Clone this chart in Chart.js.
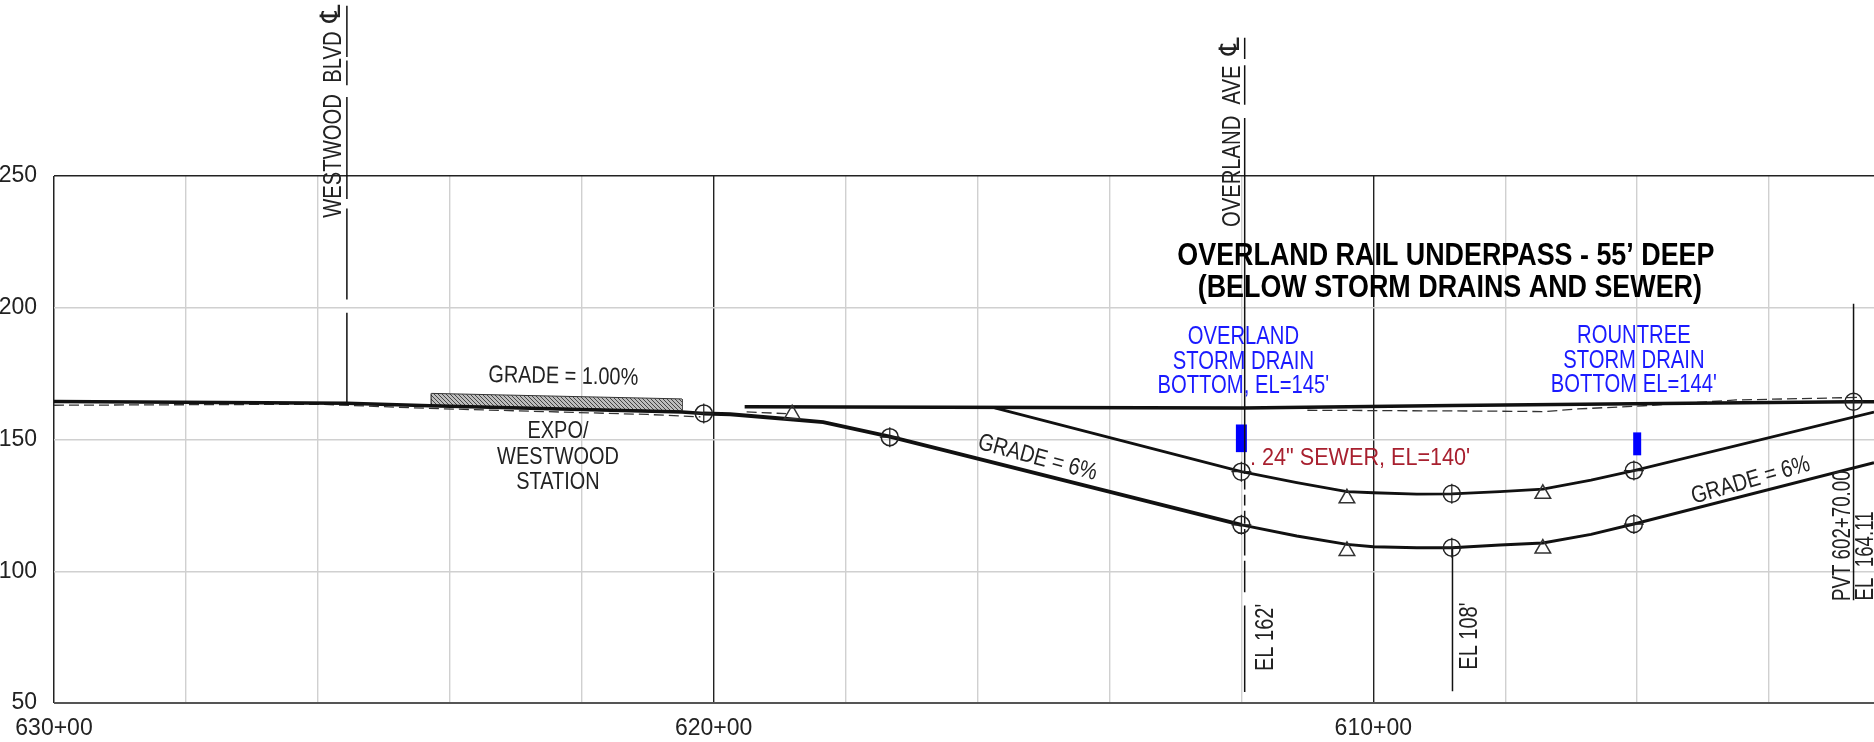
<!DOCTYPE html>
<html>
<head>
<meta charset="utf-8">
<title>Overland rail underpass profile</title>
<script src="https://cdn.jsdelivr.net/npm/chart.js@4/dist/chart.umd.min.js"></script>
<style>
  body { margin: 0; background: #fff; overflow: hidden; }
  canvas { display: block; }
</style>
</head>
<body>
<canvas id="profile" width="1874" height="742"></canvas>
<script>
// stations are in hundreds of feet, elevations in feet
const yTicks = [50, 100, 150, 200, 250];
const xLabelled = [630, 620, 610];

const groundX = [630, 625.56, 624.3, 620.48, 620.15];
const groundY = [164.4, 163.8, 162.8, 160.4, 159.9];

const lowerLeftX = [620.15, 619.75, 618.84, 618.34, 617.33, 616.42, 612];
const lowerLeftY = [159.9, 159.6, 157.7, 156.6, 151.1, 145.4, 117.6];
const lowerRightX = [612, 611.16, 610.4, 610, 609.34, 608.81, 608.08, 607.43, 606.7, 606.05, 602.41];
const lowerRightY = [117.6, 113.4, 110.2, 109.3, 108.9, 108.9, 110, 110.7, 114, 117.9, 141.2];

const upperX = [615.74, 612, 611.16, 610.4, 610, 609.34, 608.81, 608.08, 607.43, 606.7, 606.05, 602.41];
const upperY = [162, 137.8, 133.6, 130.2, 129.8, 129.3, 129.4, 130.2, 131.2, 134.6, 138.2, 160.4];

const surfaceX = [619.53, 611.97, 608.8, 606.05, 602.72, 602.41];
const surfaceY = [162.4, 162, 162.9, 163.6, 164.3, 164.3];

const dashedX = [630, 626, 624.3, 621, 620.2, null, 619.5, 618.9, null, 611, 608.5, 607.4, 606.9, 605.9, 604.5, 602.6];
const dashedY = [163, 163.4, 161.8, 159.5, 158.6, null, 160.5, 159.8, null, 161.1, 160.8, 160.6, 161.6, 162.8, 165, 166];

const platformX = [624.28, 620.48];
const platformTop = [167.5, 165.4];
const platformBottom = [163.1, 160.9];

const circleX = [620.15, 617.33, 612, 612, 608.81, 608.81, 606.05, 606.05, 602.72];
const circleY = [159.9, 150.9, 137.8, 117.6, 129.4, 108.9, 138.2, 117.9, 164.3];

const triangleX = [618.81, 610.4, 610.4, 607.43, 607.43];
const triangleY = [159.6, 127.7, 107.7, 129.4, 108.6];

const westwoodY = [314.6, 295.2, null, 293.8, 284.4, null, 280, 241.3, null, 237.7, 203.1, null, 198.1, 163.9];
const overlandY = [302.5, 294.4, null, 292, 277, null, 272, 137, null, 135, 131, null, 129, 125, null, 123, 118, null, 116, 106, null, 104, 92, null, 87, 54.2];
const el108Y = [109, 54.5];
const pvtY = [201.5, 89];

const drainX = [612, 606];
const drainBottom = [145.2, 144];
const drainTop = [155.7, 152.7];

const labelText = [
  'GRADE = 1.00%', 'EXPO/', 'WESTWOOD', 'STATION',
  'WESTWOOD  BLVD', '\u2104', 'OVERLAND  AVE', '\u2104',
  'OVERLAND RAIL UNDERPASS - 55\u2019 DEEP', '(BELOW STORM DRAINS AND SEWER)',
  'OVERLAND', 'STORM DRAIN', "BOTTOM, EL=145'",
  'ROUNTREE', 'STORM DRAIN', "BOTTOM EL=144'",
  '. 24" SEWER, EL=140\'',
  'GRADE = 6%', 'GRADE = 6%',
  "EL 162'", "EL 108'", 'PVT 602+70.00', 'EL  164.11'
];
const labelX = [622.28, 622.36, 622.36, 622.36, 625.76, 625.77, 612.12, 612.15, 608.9, 608.84, 611.97, 611.97, 611.97, 606.05, 606.05, 606.05, 610.2, 615.09, 604.28, 611.63, 608.53, 602.88, 602.54];
const labelY = [173.8, 152.9, 143.4, 133.9, 269.5, 311.7, 261.3, 299.2, 219.6, 207.4, 188.8, 179.3, 170.2, 189.2, 179.7, 170.6, 143, 143, 134.4, 74.9, 75.4, 113.5, 105.8];
const labelAngle = [1, 0, 0, 0, -90, -90, -90, -90, 0, 0, 0, 0, 0, 0, 0, 0, 0, 15, -16, -90, -90, -90, -90];
const labelKind = ['note', 'note', 'note', 'note', 'street', 'sym', 'street', 'sym', 'title', 'title', 'blue', 'blue', 'blue', 'blue', 'blue', 'blue', 'red', 'note', 'note', 'el', 'el', 'pvt', 'pvt'];

const sans = '"Liberation Sans", "DejaVu Sans", sans-serif';
const kindFont = {
  note: '24px ' + sans,
  street: '25px ' + sans,
  sym: '28px "DejaVu Sans", ' + sans,
  title: 'bold 31px ' + sans,
  blue: '25px ' + sans,
  red: '24px ' + sans,
  el: '25px ' + sans,
  pvt: '26px ' + sans
};
const kindStretch = { note: 0.83, street: 0.81, sym: 1, title: 0.867, blue: 0.81, red: 0.9, el: 0.8, pvt: 0.72 };
const kindColor = { note: '#222', street: '#222', sym: '#222', title: '#000', blue: '#1a1aff', red: '#a8202f', el: '#222', pvt: '#222' };

function zip(xs, ys) {
  return ys.map((y, i) => ({ x: Array.isArray(xs) ? xs[i] : xs, y: y }));
}

function hatch() {
  const c = document.createElement('canvas');
  c.width = 4;
  c.height = 4;
  const g = c.getContext('2d');
  g.fillStyle = '#bdbdbd';
  g.fillRect(0, 0, 4, 4);
  g.strokeStyle = '#444';
  g.lineWidth = 1;
  g.beginPath();
  g.moveTo(0, 0);
  g.lineTo(4, 4);
  g.stroke();
  return g.createPattern(c, 'repeat');
}

function line(xs, ys, width, extra) {
  return Object.assign({
    data: zip(xs, ys),
    borderColor: '#111',
    borderWidth: width,
    pointRadius: 0,
    tension: 0,
    clip: false
  }, extra);
}

// text placed through the scales so it stays tied to station and elevation
const labelPlugin = {
  id: 'labels',
  afterDatasetsDraw(chart) {
    const ctx = chart.ctx;
    labelText.forEach((t, i) => {
      const kind = labelKind[i];
      ctx.save();
      ctx.translate(chart.scales.x.getPixelForValue(labelX[i]), chart.scales.y.getPixelForValue(labelY[i]));
      ctx.rotate(labelAngle[i] * Math.PI / 180);
      ctx.scale(kindStretch[kind], 1);
      ctx.font = kindFont[kind];
      ctx.fillStyle = kindColor[kind];
      ctx.textAlign = 'center';
      ctx.textBaseline = 'middle';
      ctx.fillText(t, 0, 0);
      ctx.restore();
    });
  }
};

new Chart(document.getElementById('profile'), {
  type: 'line',
  plugins: [labelPlugin],
  data: {
    datasets: [
      line(circleX, circleY, 1.5, { showLine: false, pointStyle: 'circle', pointRadius: 8.5, pointBorderWidth: 1.5, pointBorderColor: '#222', pointBackgroundColor: 'transparent' }),
      line(circleX, circleY, 1, { showLine: false, pointStyle: 'cross', pointRadius: 10, pointBorderWidth: 1.2, pointBorderColor: '#222' }),
      line(triangleX, triangleY, 1.5, { showLine: false, pointStyle: 'triangle', pointRadius: 9, pointBorderWidth: 1.5, pointBorderColor: '#333', pointBackgroundColor: 'transparent' }),
      line(groundX, groundY, 3.5),
      line(lowerLeftX, lowerLeftY, 4),
      line(lowerRightX, lowerRightY, 3),
      line(upperX, upperY, 2.8),
      line(surfaceX, surfaceY, 3.5),
      line(dashedX, dashedY, 1.3, { borderDash: [10, 5], borderColor: '#333' }),
      line(platformX, platformTop, 1, { fill: '+1', backgroundColor: hatch(), borderColor: '#333' }),
      line(platformX, platformBottom, 2, { borderColor: '#111' }),
      line(platformX[0], [platformTop[0], platformBottom[0]], 1.5),
      line(platformX[1], [platformTop[1], platformBottom[1]], 1.5),
      line(625.56, westwoodY, 1.5),
      line(611.95, overlandY, 1.5),
      line(608.8, el108Y, 1.5),
      line(602.72, pvtY, 1.5),
      line(drainX[0], [drainBottom[0], drainTop[0]], 11, { borderColor: '#0000ff', borderCapStyle: 'butt' }),
      line(drainX[1], [drainBottom[1], drainTop[1]], 8, { borderColor: '#0000ff', borderCapStyle: 'butt' })
    ]
  },
  options: {
    responsive: false,
    animation: false,
    parsing: false,
    normalized: false,
    layout: { autoPadding: false, padding: { top: 176, left: 0, right: 0, bottom: 0 } },
    plugins: { legend: { display: false }, tooltip: { enabled: false } },
    scales: {
      x: {
        type: 'linear',
        reverse: true,
        min: 602.41,
        max: 630,
        afterFit: s => { s.height = 39; s.paddingLeft = 0; s.paddingRight = 0; },
        border: { display: false },
        grid: {
          drawTicks: false,
          color: c => (xLabelled.includes(c.tick.value) ? '#222' : '#d0d0d0'),
          lineWidth: c => (c.tick.value === 630 ? 1.5 : 1.4)
        },
        ticks: {
          stepSize: 2,
          includeBounds: false,
          autoSkip: false,
          maxRotation: 0,
          padding: 12,
          color: '#222',
          font: { family: sans, size: 23 },
          callback: v => (xLabelled.includes(v) ? v + '+00' : '')
        }
      },
      y: {
        min: 50,
        max: 250,
        afterFit: s => { s.width = 54; },
        afterBuildTicks: s => { s.ticks = yTicks.map(v => ({ value: v })); },
        border: { display: false },
        grid: {
          drawTicks: false,
          color: c => (c.tick.value === 250 ? '#222' : c.tick.value === 50 ? '#555' : '#d0d0d0'),
          lineWidth: c => (c.tick.value === 50 ? 2 : 1.4)
        },
        ticks: {
          padding: 17,
          color: '#222',
          font: { family: sans, size: 23 }
        }
      }
    }
  }
});
</script>
</body>
</html>
